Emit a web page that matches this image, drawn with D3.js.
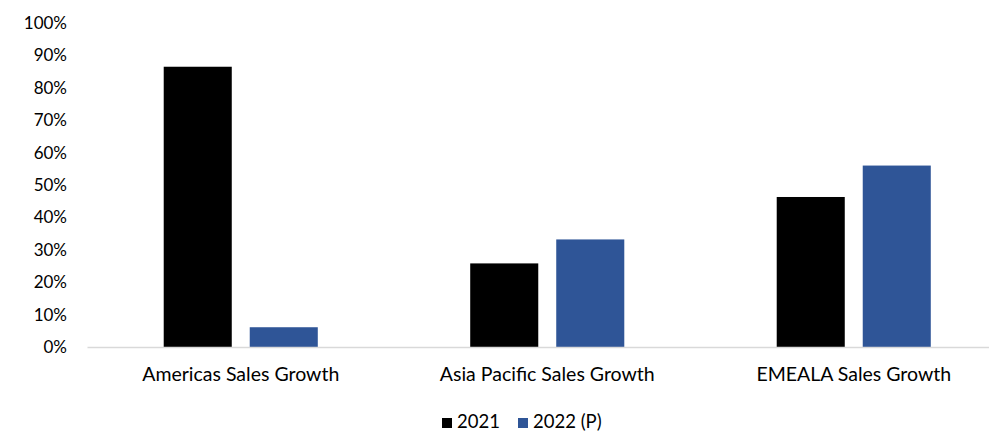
<!DOCTYPE html>
<html>
<head>
<meta charset="utf-8">
<script src="https://cdn.jsdelivr.net/npm/d3@7"></script>
<style>
  body { margin: 0; background: #fff; }
  svg text { font-family: Lato, "Open Sans", sans-serif; fill: #000; }
</style>
</head>
<body>
<svg id="chart" width="989" height="433"></svg>
<script>
// Regional sales growth, 2021 actual vs 2022 projected (percent)
const categories = ["Americas Sales Growth", "Asia Pacific Sales Growth", "EMEALA Sales Growth"];
const seriesNames = ["2021", "2022 (P)"];
const values2021 = [86.5, 25.8, 46.3];
const values2022 = [6.1, 33.2, 56.0];
const yTicks = [0, 10, 20, 30, 40, 50, 60, 70, 80, 90, 100];
const seriesColors = ["#000000", "#2F5597"];

const svg = d3.select("#chart");
const plot = { left: 87.5, right: 1007, top: 23, bottom: 347 };

const y = d3.scaleLinear().domain([0, 100]).range([plot.bottom, plot.top]);
const x0 = d3.scaleBand().domain(categories).range([plot.left, plot.right]).padding(0);
const x1 = d3.scaleBand().domain(seriesNames).range([0, x0.bandwidth()])
  .paddingInner(0.209).paddingOuter(0.886);

const seriesData = [values2021, values2022];

// Y axis labels (no axis line, no ticks)
const yAxis = d3.axisLeft(y).tickValues(yTicks).tickFormat(d => d + "%").tickSize(0).tickPadding(0);
const yg = svg.append("g").attr("transform", "translate(67,0)").call(yAxis);
yg.select(".domain").remove();
yg.selectAll("text").style("font-size", "17px").style("font-family", "Lato, 'Open Sans', sans-serif").attr("fill", "#000");

// Bars
const groups = svg.append("g").selectAll("g")
  .data(categories)
  .join("g")
  .attr("transform", d => `translate(${x0(d)},0)`);

groups.selectAll("rect")
  .data((c, i) => seriesNames.map((s, j) => ({ s, v: seriesData[j][i], j })))
  .join("rect")
  .attr("x", d => x1(d.s))
  .attr("width", x1.bandwidth())
  .attr("y", d => y(d.v))
  .attr("height", d => y(0) - y(d.v))
  .attr("fill", d => seriesColors[d.j]);

// Baseline
svg.append("line")
  .attr("x1", plot.left).attr("x2", 989)
  .attr("y1", y(0) + 0.5).attr("y2", y(0) + 0.5)
  .attr("stroke", "#d9d9d9").attr("stroke-width", 1.5);

// Category labels
const xAxis = d3.axisBottom(x0).tickSize(0).tickPadding(0);
const xg = svg.append("g").attr("transform", `translate(0,${plot.bottom + 20})`).call(xAxis);
xg.select(".domain").remove();
xg.selectAll("text").style("font-size", "19.5px").style("font-family", "Lato, 'Open Sans', sans-serif").attr("fill", "#000");

// Legend
const legendItems = [
  { name: seriesNames[0], color: seriesColors[0], x: 442 },
  { name: seriesNames[1], color: seriesColors[1], x: 518 }
];
const lg = svg.append("g").selectAll("g").data(legendItems).join("g")
  .attr("transform", d => `translate(${d.x},422)`);
lg.append("rect").attr("x", 0).attr("y", -4).attr("width", 10).attr("height", 10).attr("fill", d => d.color);
lg.append("text").attr("x", 15).attr("dy", "0.35em").style("font-size", "18.5px").text(d => d.name);
</script>
</body>
</html>
